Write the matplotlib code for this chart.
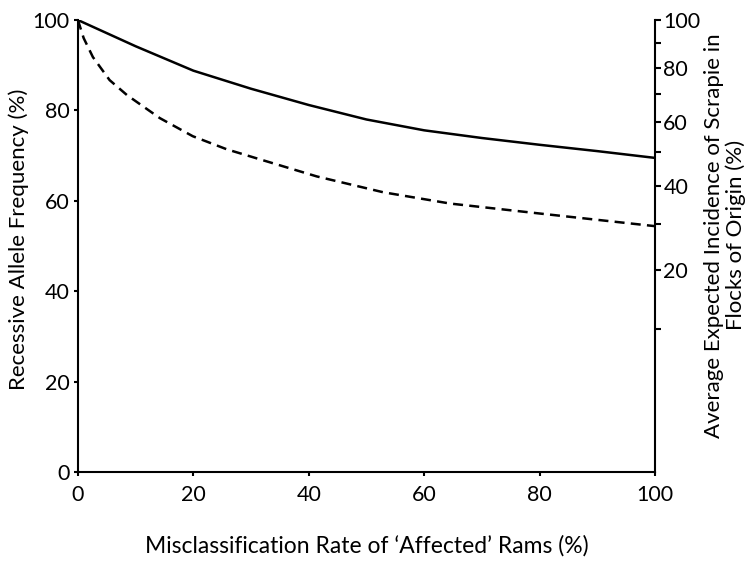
import numpy as np
import matplotlib
matplotlib.use("Agg")
import matplotlib.pyplot as plt

plt.rcParams['font.family'] = ['Lato', 'DejaVu Sans']

# misclassification rate (%) vs recessive allele frequency (%)
x_solid = [0, 10, 20, 30, 40, 50, 60, 70, 80, 90, 100]
y_solid = [100, 94.2, 88.8, 84.8, 81.2, 78.0, 75.6, 73.9, 72.4, 71.0, 69.5]

x_dash = [0, 1, 2.6, 5.5, 8.5, 14.2, 19.9, 25.8, 31.5, 41.4, 52.9, 64.5, 80, 100]
y_dash = [100, 96, 91.8, 86.7, 83.4, 78.3, 74.3, 71.4, 69.2, 65.4, 61.9, 59.4, 57.2, 54.4]

xticks = [0, 20, 40, 60, 80, 100]
yticks = [0, 20, 40, 60, 80, 100]
rticks = [20, 40, 60, 80, 100]
rminor = [10, 30, 50, 70, 90]

fig = plt.figure(figsize=(7.49, 5.64), dpi=100)
ax = fig.add_axes([0.104, 0.163, 0.7705, 0.8015])

ax.plot(x_solid, y_solid, color='black', lw=1.8)
ax.plot(x_dash, y_dash, color='black', lw=1.8, ls=(0, (4, 2.5)))

ax.set_xlim(0, 100)
ax.set_ylim(0, 100)
ax.set_xticks(xticks)
ax.set_yticks(yticks)
ax.spines['top'].set_visible(False)
ax.spines['right'].set_visible(False)
for s in ['left', 'bottom']:
    ax.spines[s].set_linewidth(1.5)
ax.tick_params(direction='out', length=3, width=1.5, labelsize=15.5, pad=3)
ax.tick_params(axis='x', pad=6)

ax.set_xlabel("Misclassification Rate of \u2018Affected\u2019 Rams (%)", fontsize=16.5, labelpad=22)
fig.text(0.025, 0.575, "Recessive Allele Frequency (%)", rotation=90,
         ha='center', va='center', fontsize=16)

# incidence = q^2
def fwd(q):
    return np.asarray(q, dtype=float) ** 2 / 100.0

def inv(i):
    return np.sqrt(np.clip(np.asarray(i, dtype=float), 0, None) * 100.0)

sec = ax.secondary_yaxis('right', functions=(fwd, inv))
sec.set_yticks(rticks)
sec.set_yticks(rminor, minor=True)
sec.spines['right'].set_linewidth(1.5)
sec.tick_params(which='both', direction='out', length=4, width=1.5, labelsize=15.5, pad=2)

fig.text(0.968, 0.583, "Average Expected Incidence of Scrapie in\nFlocks of Origin (%)",
         rotation=90, ha='center', va='center', fontsize=16, multialignment='center',
         linespacing=1.05)

fig.savefig("out.png", dpi=100)
